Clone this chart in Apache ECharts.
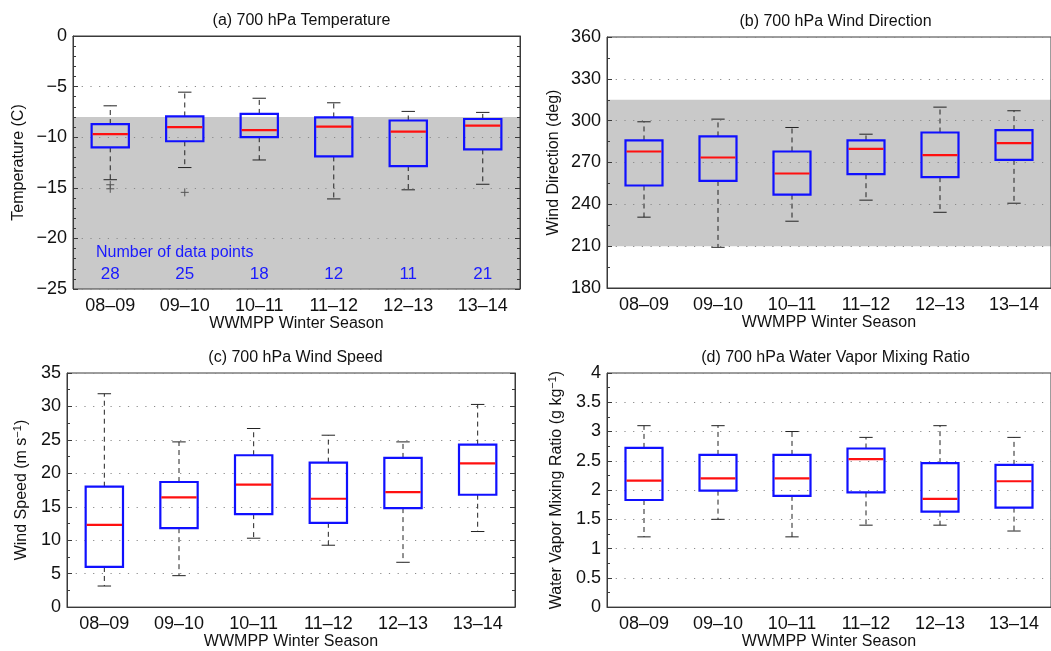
<!DOCTYPE html>
<html>
<head>
<meta charset="utf-8">
<title>700 hPa soundings by WWMPP winter season</title>
<script src="https://cdn.jsdelivr.net/npm/echarts@6/dist/echarts.min.js"></script>
<style>
  html, body { margin: 0; padding: 0; background: #fff; }
  #chart { width: 1051px; height: 651px; }
</style>
</head>
<body>
<div id="chart"></div>
<script>
// Winter seasons on the shared category axis
const seasons = ['08–09', '09–10', '10–11', '11–12', '12–13', '13–14'];

// Box statistics per season: [lower whisker, Q1, median, Q3, upper whisker]
const temperature = [
  [-14.2, -11.0, -9.7, -8.7, -6.9],
  [-13.0, -10.4, -9.0, -7.95, -5.55],
  [-12.25, -10.0, -9.3, -7.7, -6.15],
  [-16.1, -11.9, -8.95, -8.05, -6.6],
  [-15.2, -12.85, -9.45, -8.35, -7.45],
  [-14.65, -11.2, -8.85, -8.2, -7.55]
];
// Temperature outliers: [season index, value]
const temperatureOutliers = [[0, -14.7], [0, -15.1], [1, -15.45]];

const windDirection = [
  [230.8, 253.5, 277.9, 285.8, 299.2],
  [209.2, 256.8, 273.6, 288.7, 301.1],
  [227.9, 247.0, 262.1, 277.9, 295.1],
  [243.0, 261.6, 279.8, 285.8, 290.3],
  [234.3, 259.5, 275.3, 291.5, 309.7],
  [240.8, 271.9, 283.9, 293.2, 307.1]
];

const windSpeed = [
  [3.15, 6.0, 12.3, 18.0, 31.9],
  [4.7, 11.8, 16.4, 18.7, 24.7],
  [10.3, 13.9, 18.3, 22.7, 26.7],
  [9.25, 12.6, 16.2, 21.6, 25.7],
  [6.7, 14.8, 17.2, 22.3, 24.7],
  [11.3, 16.8, 21.5, 24.3, 30.3]
];

const mixingRatio = [
  [1.2, 1.83, 2.16, 2.72, 3.1],
  [1.5, 1.99, 2.2, 2.6, 3.1],
  [1.2, 1.9, 2.2, 2.6, 3.0],
  [1.4, 1.96, 2.53, 2.71, 2.9],
  [1.4, 1.63, 1.85, 2.46, 3.1],
  [1.3, 1.7, 2.15, 2.43, 2.9]
];

// Number of soundings per season
const dataCounts = [28, 25, 18, 12, 11, 21];

// Shaded seeding-criteria ranges [low, high]
const temperatureBand = [-25, -8];
const directionBand = [210, 315];

const FONT = '"Liberation Sans", Arial, Helvetica, sans-serif';
const FRAME = '#3a3a3a';

const panels = [
  { title: '(a) 700 hPa Temperature', grid: { left: 73, top: 36, width: 447, height: 253 },
    min: -25, max: 0, interval: 5, minorSplit: 5, name: 'Temperature (C)', nameGap: 46,
    data: temperature, band: temperatureBand, mirror: true },
  { title: '(b) 700 hPa Wind Direction', grid: { left: 607, top: 37, width: 449, height: 251 },
    min: 180, max: 360, interval: 30, minorSplit: 2, name: 'Wind Direction (deg)', nameGap: 45,
    data: windDirection, band: directionBand, mirror: false },
  { title: '(c) 700 hPa Wind Speed', grid: { left: 67, top: 373, width: 448, height: 237 },
    min: 0, max: 35, interval: 5, minorSplit: 2, name: 'Wind Speed (m s{sup|−1})', nameGap: 35,
    data: windSpeed, band: null, mirror: true },
  { title: '(d) 700 hPa Water Vapor Mixing Ratio', grid: { left: 607, top: 373, width: 449, height: 237 },
    min: 0, max: 4, interval: 0.5, minorSplit: 2, name: 'Water Vapor Mixing Ratio (g kg{sup|−1})', nameGap: 40,
    data: mixingRatio, band: null, mirror: false }
];

const minusFix = v => String(v).replace('-', '−');

const option = {
  animation: false,
  backgroundColor: '#ffffff',
  textStyle: { fontFamily: FONT },
  title: [],
  grid: [],
  xAxis: [],
  yAxis: [],
  series: [],
  graphic: [{
    type: 'text', left: 96, top: 245, z: 10,
    style: { text: 'Number of data points', fill: '#1a1aff', font: '16px ' + FONT }
  }]
};

panels.forEach((p, i) => {
  option.grid.push(Object.assign({ show: true, borderColor: FRAME, borderWidth: 1, backgroundColor: 'transparent', z: 3 }, p.grid));
  option.title.push({
    text: p.title,
    left: p.grid.left + Math.min(p.grid.width, 447) / 2,
    top: p.grid.top - 28,
    textAlign: 'center',
    textStyle: { fontFamily: FONT, fontSize: 16, fontWeight: 'normal', color: '#111' }
  });
  option.xAxis.push({
    type: 'category', gridIndex: i, data: seasons, boundaryGap: true,
    name: 'WWMPP Winter Season', nameLocation: 'middle', nameGap: 25,
    nameTextStyle: { fontFamily: FONT, fontSize: 16, color: '#111' },
    axisLine: { show: true, lineStyle: { color: FRAME, width: 1 } },
    axisTick: { show: false },
    axisLabel: { fontFamily: FONT, fontSize: 18, color: '#111', margin: 8 },
    splitLine: { show: false }, z: 3
  });
  const yi = option.yAxis.length;
  option.yAxis.push({
    type: 'value', gridIndex: i, min: p.min, max: p.max, interval: p.interval,
    name: p.name, nameLocation: 'middle', nameGap: p.nameGap,
    nameTextStyle: {
      fontFamily: FONT, fontSize: 16, color: '#111',
      rich: { sup: { fontFamily: FONT, fontSize: 11, color: '#111', padding: [0, 0, 9, 0] } }
    },
    axisLine: { show: true, lineStyle: { color: FRAME, width: 1 } },
    axisTick: { show: true, inside: true, length: 5, lineStyle: { color: FRAME } },
    minorTick: { show: true, splitNumber: p.minorSplit, length: 3, lineStyle: { color: FRAME } },
    axisLabel: { fontFamily: FONT, fontSize: 18, color: '#111', margin: 6, formatter: minusFix },
    splitLine: { show: true, lineStyle: { color: '#8a8a8a', width: 1, type: [1.2, 7.5] } },
    z: 3
  });
  if (p.mirror) {
    option.yAxis.push({
      type: 'value', gridIndex: i, position: 'right', min: p.min, max: p.max, interval: p.interval,
      axisLine: { show: true, lineStyle: { color: FRAME, width: 1 } },
      axisTick: { show: true, inside: true, length: 5, lineStyle: { color: FRAME } },
      minorTick: { show: true, splitNumber: p.minorSplit, length: 3, lineStyle: { color: FRAME } },
      axisLabel: { show: false }, splitLine: { show: false }, z: 3
    });
  }

  // Shaded range behind the boxes
  if (p.band) {
    option.series.push({
      type: 'custom', xAxisIndex: i, yAxisIndex: yi, z: -1, silent: true,
      data: [p.band],
      renderItem: (params, api) => {
        const cs = params.coordSys;
        const yLow = api.coord([0, api.value(0)])[1];
        const yHigh = api.coord([0, api.value(1)])[1];
        return {
          type: 'rect',
          shape: { x: cs.x, y: yHigh, width: cs.width, height: yLow - yHigh },
          style: { fill: '#c9c9c9' }
        };
      }
    });
  }

  // Box-and-whisker marks
  option.series.push({
    type: 'custom', xAxisIndex: i, yAxisIndex: yi, z: 5, silent: true,
    data: p.data.map((d, k) => [k].concat(d)),
    encode: { x: 0, y: [1, 2, 3, 4, 5] },
    renderItem: (params, api) => {
      const k = api.value(0);
      const band = api.size([1, 0])[0];
      const half = band * 0.25;
      const cap = band * 0.09;
      const lo = api.coord([k, api.value(1)]);
      const q1 = api.coord([k, api.value(2)]);
      const med = api.coord([k, api.value(3)]);
      const q3 = api.coord([k, api.value(4)]);
      const hi = api.coord([k, api.value(5)]);
      const x = lo[0];
      const whisker = { stroke: '#222', lineWidth: 1, lineDash: [5, 4] };
      const capStyle = { stroke: '#222', lineWidth: 1 };
      return {
        type: 'group',
        children: [
          { type: 'line', shape: { x1: x, y1: q3[1], x2: x, y2: hi[1] }, style: whisker },
          { type: 'line', shape: { x1: x, y1: q1[1], x2: x, y2: lo[1] }, style: whisker },
          { type: 'line', shape: { x1: x - cap, y1: hi[1], x2: x + cap, y2: hi[1] }, style: capStyle },
          { type: 'line', shape: { x1: x - cap, y1: lo[1], x2: x + cap, y2: lo[1] }, style: capStyle },
          { type: 'rect', shape: { x: x - half, y: q3[1], width: half * 2, height: q1[1] - q3[1] },
            style: { fill: 'none', stroke: '#1010ff', lineWidth: 2.2 } },
          { type: 'line', shape: { x1: x - half + 1, y1: med[1], x2: x + half - 1, y2: med[1] },
            style: { stroke: '#ff1010', lineWidth: 2.2 } }
        ]
      };
    }
  });
});

// Outliers in the temperature panel, drawn as plus signs
option.series.push({
  type: 'custom', xAxisIndex: 0, yAxisIndex: 0, z: 5, silent: true,
  data: temperatureOutliers,
  renderItem: (params, api) => {
    const c = api.coord([api.value(0), api.value(1)]);
    const s = 4;
    const st = { stroke: '#555', lineWidth: 1 };
    return {
      type: 'group',
      children: [
        { type: 'line', shape: { x1: c[0] - s, y1: c[1], x2: c[0] + s, y2: c[1] }, style: st },
        { type: 'line', shape: { x1: c[0], y1: c[1] - s, x2: c[0], y2: c[1] + s }, style: st }
      ]
    };
  }
});

// Sample counts under each temperature box
option.series.push({
  type: 'custom', xAxisIndex: 0, yAxisIndex: 0, z: 6, silent: true,
  data: dataCounts.map((n, k) => [k, n]),
  renderItem: (params, api) => {
    const c = api.coord([api.value(0), -23.55]);
    return {
      type: 'text',
      style: {
        text: String(api.value(1)), x: c[0], y: c[1],
        align: 'center', verticalAlign: 'middle',
        fill: '#1a1aff', font: '17px ' + FONT
      }
    };
  }
});

const chart = echarts.init(document.getElementById('chart'), null, { renderer: 'canvas' });
chart.setOption(option);
</script>
</body>
</html>
